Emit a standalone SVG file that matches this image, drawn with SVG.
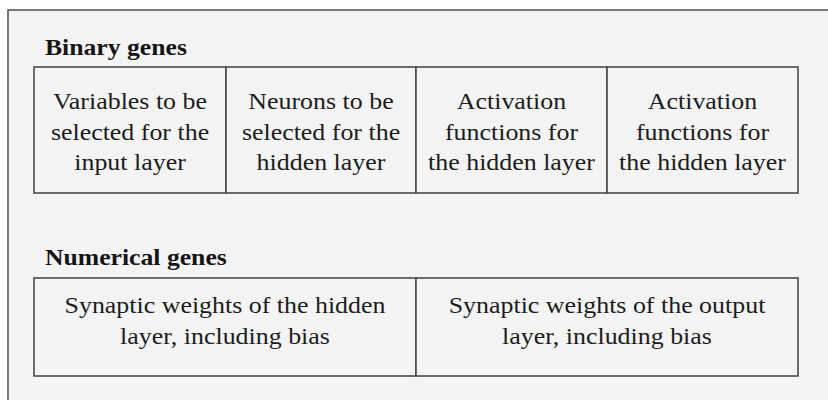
<svg xmlns="http://www.w3.org/2000/svg" width="828" height="400" viewBox="0 0 828 400">
<style>
.frame{fill:#f4f4f4;stroke:#5a5a5a;stroke-width:1.6}
.cell{fill:#f4f4f4;stroke:#4a4a4a;stroke-width:1.6}
.t{font-family:"Liberation Serif","Times New Roman",serif;font-size:24px;fill:#1c1c1c;text-anchor:middle}
.h{font-family:"Liberation Serif","Times New Roman",serif;font-size:24px;font-weight:bold;fill:#151515}
</style>
<rect x="0" y="0" width="828" height="400" fill="#ffffff"/>
<rect class="frame" x="8" y="10" width="840" height="400"/>
<g id="binary-header"><text class="h" transform="translate(45,55) scale(1.07,1)">Binary genes</text></g>
<g id="b1">
<rect class="cell" x="34" y="67" width="192" height="126"/>
<text class="t" transform="translate(130,108.5) scale(1.08,1)">Variables to be</text>
<text class="t" transform="translate(130,139.5) scale(1.08,1)">selected for the</text>
<text class="t" transform="translate(130,170) scale(1.08,1)">input layer</text>
</g>
<g id="b2">
<rect class="cell" x="226" y="67" width="190" height="126"/>
<text class="t" transform="translate(321,108.5) scale(1.08,1)">Neurons to be</text>
<text class="t" transform="translate(321,139.5) scale(1.08,1)">selected for the</text>
<text class="t" transform="translate(321,170) scale(1.08,1)">hidden layer</text>
</g>
<g id="b3">
<rect class="cell" x="416" y="67" width="191" height="126"/>
<text class="t" transform="translate(511.5,108.5) scale(1.08,1)">Activation</text>
<text class="t" transform="translate(511.5,139.5) scale(1.08,1)">functions for</text>
<text class="t" transform="translate(511.5,170) scale(1.08,1)">the hidden layer</text>
</g>
<g id="b4">
<rect class="cell" x="607" y="67" width="191" height="126"/>
<text class="t" transform="translate(702.5,108.5) scale(1.08,1)">Activation</text>
<text class="t" transform="translate(702.5,139.5) scale(1.08,1)">functions for</text>
<text class="t" transform="translate(702.5,170) scale(1.08,1)">the hidden layer</text>
</g>
<g id="numerical-header"><text class="h" transform="translate(45,265) scale(1.07,1)">Numerical genes</text></g>
<g id="n1">
<rect class="cell" x="34" y="278" width="382" height="98"/>
<text class="t" transform="translate(225,313) scale(1.08,1)">Synaptic weights of the hidden</text>
<text class="t" transform="translate(225,344) scale(1.08,1)">layer, including bias</text>
</g>
<g id="n2">
<rect class="cell" x="416" y="278" width="382" height="98"/>
<text class="t" transform="translate(607,313) scale(1.08,1)">Synaptic weights of the output</text>
<text class="t" transform="translate(607,344) scale(1.08,1)">layer, including bias</text>
</g>
<g id="connectors"></g>
</svg>
